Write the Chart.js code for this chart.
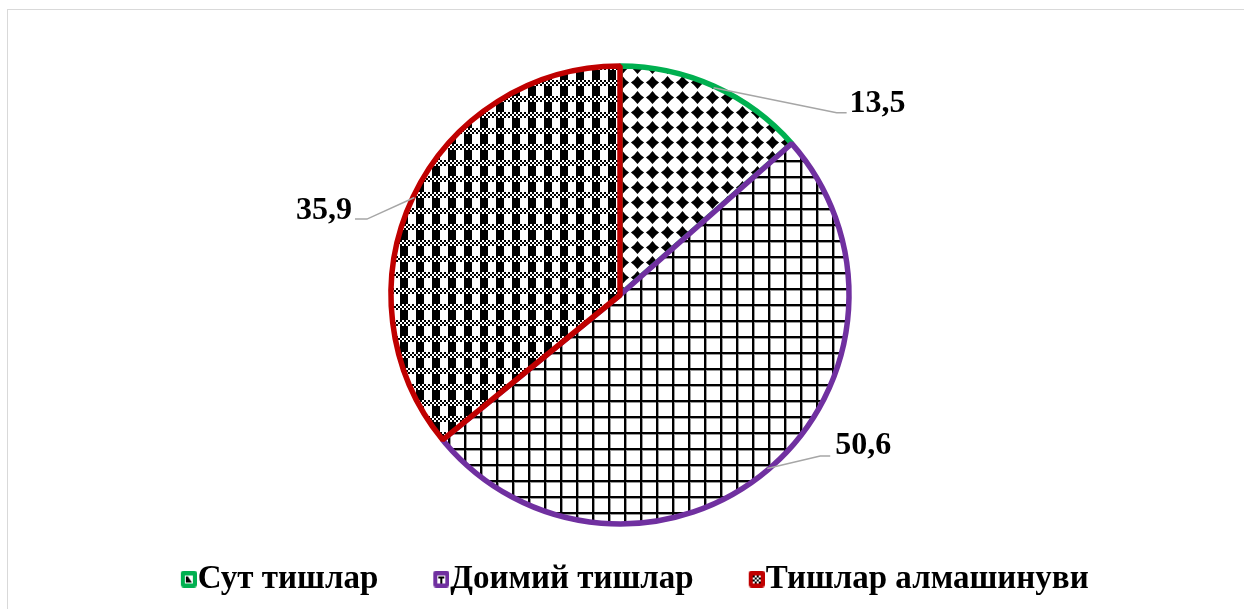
<!DOCTYPE html>
<html><head><meta charset="utf-8">
<script src="https://cdn.jsdelivr.net/npm/chart.js@4/dist/chart.umd.min.js"></script>
<style>html,body{margin:0;padding:0;background:#fff;overflow:hidden;} #wrap{width:1244px;height:609px;position:relative;}</style>
</head><body><div id="wrap"><canvas id="c" width="1244" height="609"></canvas></div>
<script>
const categories = ['Сут тишлар', 'Доимий тишлар', 'Тишлар алмашинуви'];
const values = [13.5, 50.6, 35.9];
const valueLabels = ['13,5', '50,6', '35,9'];
const sliceColors = ['#00b050', '#7030a0', '#c00000'];

function makeTile(w, h, draw) {
  const c = document.createElement('canvas');
  c.width = w; c.height = h;
  const g = c.getContext('2d');
  g.fillStyle = '#fff'; g.fillRect(0, 0, w, h);
  draw(g, w, h);
  return c;
}
const diamondTile = makeTile(15, 15, (g) => {
  g.fillStyle = '#000';
  const cx = 7.5, cy = 7.5, r = 6.6, k = r / 2 - 0.6;
  g.beginPath();
  g.moveTo(cx, cy - r);
  g.quadraticCurveTo(cx + k, cy - k, cx + r, cy);
  g.quadraticCurveTo(cx + k, cy + k, cx, cy + r);
  g.quadraticCurveTo(cx - k, cy + k, cx - r, cy);
  g.quadraticCurveTo(cx - k, cy - k, cx, cy - r);
  g.fill();
});
const gridTile = makeTile(16, 16, (g) => {
  g.fillStyle = '#999';
  g.fillRect(2, 0, 1, 16); g.fillRect(0, 2, 16, 1);
  g.fillStyle = '#000';
  g.fillRect(0, 0, 2, 16); g.fillRect(0, 0, 16, 2);
});
const plaidTile = makeTile(16, 16, (g) => {
  g.fillStyle = '#000';
  for (let yy = 0; yy < 6; yy += 2) for (let xx = 0; xx < 16; xx += 2) {
    if (((xx + yy) / 2) % 2 === 0) g.fillRect(xx, yy, 2, 2);
  }
  g.fillRect(0, 6, 8, 10);
});
const ctx = document.getElementById('c').getContext('2d');
const slicePatterns = [
  ctx.createPattern(diamondTile, 'repeat'),
  ctx.createPattern(gridTile, 'repeat'),
  ctx.createPattern(plaidTile, 'repeat')
];

function legendIcon(color, kind) {
  const W = 61, H = 17, bx = W - 16;
  const c = document.createElement('canvas');
  c.width = W; c.height = H;
  const g = c.getContext('2d');
  g.fillStyle = color;
  g.beginPath();
  if (g.roundRect) g.roundRect(bx, 0, 16, H, 3); else g.rect(bx, 0, 16, H);
  g.fill();
  g.fillStyle = '#fff';
  g.fillRect(bx + 4, 5, 8, 8);
  g.fillStyle = '#000';
  if (kind === 0) {
    g.beginPath(); g.moveTo(bx + 5, 6); g.lineTo(bx + 7, 6); g.lineTo(bx + 11, 12); g.lineTo(bx + 5, 12); g.closePath(); g.fill();
  } else if (kind === 1) {
    g.fillRect(bx + 5, 6, 6, 2); g.fillRect(bx + 7, 6, 2, 7);
  } else {
    for (let yy = 0; yy < 8; yy += 2) for (let xx = 0; xx < 8; xx += 2) if (((xx + yy) / 2) % 2 === 0) g.fillRect(bx + 4 + xx, 5 + yy, 2, 2);
  }
  return c;
}
const legendIcons = sliceColors.map((c, i) => legendIcon(c, i));

const leaderOffsets = [
  { ex: 123, ey: 25, len: 10, tx: 3, ty: -9, align: 'left' },
  { ex: 53, ey: -12.5, len: 10, tx: 5, ty: -10, align: 'left' },
  { ex: -47.5, ey: 21.6, len: -12, tx: -3, ty: -8, align: 'right' }
];

const framePlugin = {
  id: 'frame',
  beforeDraw(chart) {
    const c = chart.ctx;
    c.save();
    c.fillStyle = '#fff'; c.fillRect(0, 0, chart.width, chart.height);
    c.strokeStyle = '#d9d9d9'; c.lineWidth = 1;
    c.strokeRect(7.5, 9.5, 1400, 800);
    c.restore();
  }
};
const leaderPlugin = {
  id: 'leaders',
  afterDatasetsDraw(chart) {
    const c = chart.ctx;
    const meta = chart.getDatasetMeta(0);
    meta.data.forEach((arc, i) => {
      const p = arc.getProps(['x', 'y', 'startAngle', 'endAngle', 'outerRadius'], true);
      const mid = (p.startAngle + p.endAngle) / 2;
      const r = p.outerRadius - 1.5;
      const px = p.x + Math.cos(mid) * r, py = p.y + Math.sin(mid) * r;
      const o = leaderOffsets[i];
      const ex = px + o.ex, ey = py + o.ey, fx = ex + o.len;
      c.save();
      c.strokeStyle = '#a6a6a6'; c.lineWidth = 1.5;
      c.beginPath(); c.moveTo(px, py); c.lineTo(ex, ey); c.lineTo(fx, ey); c.stroke();
      c.fillStyle = '#000';
      c.font = 'bold 32px "Liberation Serif", "Times New Roman", serif';
      c.textAlign = o.align; c.textBaseline = 'middle';
      c.fillText(valueLabels[i], fx + o.tx, ey + o.ty);
      c.restore();
    });
  }
};

new Chart(ctx, {
  type: 'pie',
  data: {
    labels: categories,
    datasets: [{
      data: values,
      backgroundColor: slicePatterns,
      borderColor: sliceColors,
      borderWidth: 5.5,
      radius: 229
    }]
  },
  options: {
    responsive: false,
    animation: false,
    layout: { padding: { top: 53, bottom: 3.5, left: 0, right: 4 } },
    plugins: {
      tooltip: { enabled: false },
      legend: {
        position: 'bottom',
        labels: {
          usePointStyle: true,
          pointStyleWidth: 30,
          padding: 25.5,
          color: '#000',
          font: { family: '"Liberation Serif", "Times New Roman", serif', size: 33, weight: 'bold' },
          generateLabels(chart) {
            return categories.map((t, i) => ({
              text: t, fillStyle: sliceColors[i], strokeStyle: sliceColors[i], lineWidth: 0,
              pointStyle: legendIcons[i], hidden: false, index: i, datasetIndex: 0
            }));
          }
        }
      }
    }
  },
  plugins: [framePlugin, leaderPlugin]
});
</script>
</body></html>
